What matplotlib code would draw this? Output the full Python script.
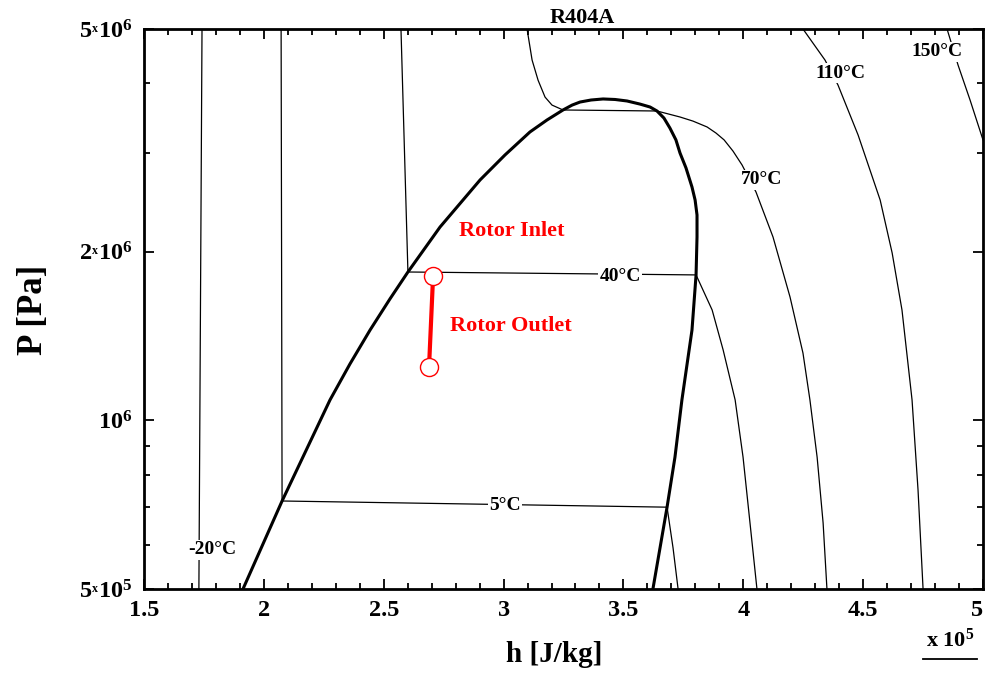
import matplotlib
matplotlib.use('Agg')
import matplotlib.pyplot as plt
from matplotlib.ticker import FixedLocator, NullFormatter
from matplotlib.lines import Line2D

plt.rcParams['font.family'] = ['Liberation Serif', 'DejaVu Serif']
plt.rcParams['font.weight'] = 'bold'
plt.rcParams['mathtext.fontset'] = 'custom'
plt.rcParams['mathtext.rm'] = 'Liberation Serif:bold'
plt.rcParams['mathtext.it'] = 'Liberation Serif:italic:bold'
plt.rcParams['mathtext.bf'] = 'Liberation Serif:bold'

# ---------------- data (h in 1e5 J/kg, P in Pa) ----------------
sat_h = [1.913, 2.076, 2.276, 2.359, 2.443, 2.526, 2.601, 2.735, 2.902, 3.006,
         3.110, 3.181, 3.248, 3.286, 3.319, 3.365, 3.415, 3.465, 3.515, 3.569,
         3.611, 3.640, 3.669, 3.694, 3.719, 3.736, 3.761, 3.786, 3.799, 3.807,
         3.807, 3.803, 3.786, 3.744, 3.715, 3.682, 3.623]
sat_P = [5.00e5, 7.18e5, 1.088e6, 1.261e6, 1.450e6, 1.648e6, 1.841e6, 2.215e6, 2.688e6, 2.979e6,
         3.274e6, 3.439e6, 3.584e6, 3.657e6, 3.703e6, 3.734e6, 3.750e6, 3.742e6, 3.719e6, 3.672e6,
         3.628e6, 3.569e6, 3.467e6, 3.327e6, 3.169e6, 3.003e6, 2.824e6, 2.611e6, 2.475e6, 2.327e6,
         2.126e6, 1.819e6, 1.450e6, 1.088e6, 8.60e5, 7.00e5, 5.00e5]

tm20_h = [1.742, 1.729]
tm20_P = [5.0e6, 5.0e5]

t5_h = [2.072, 2.076, 3.682, 3.707, 3.728]
t5_P = [5.0e6, 7.18e5, 7.00e5, 5.92e5, 5.0e5]

t40_h = [2.572, 2.601, 3.803, 3.870, 3.916, 3.966, 3.999, 4.028, 4.057]
t40_P = [5.0e6, 1.841e6, 1.819e6, 1.575e6, 1.336e6, 1.088e6, 8.60e5, 6.56e5, 5.0e5]

t70_h = [3.098, 3.119, 3.144, 3.173, 3.202, 3.248, 3.640, 3.736, 3.790, 3.849,
         3.886, 3.920, 3.957, 3.995, 4.053, 4.124, 4.195, 4.249, 4.278, 4.308,
         4.333, 4.349]
t70_P = [5.0e6, 4.40e6, 4.05e6, 3.779e6, 3.657e6, 3.584e6, 3.569e6, 3.482e6, 3.424e6, 3.342e6,
         3.260e6, 3.169e6, 3.027e6, 2.858e6, 2.558e6, 2.126e6, 1.661e6, 1.319e6, 1.088e6, 8.60e5,
         6.56e5, 5.0e5]

t110_h = [4.249, 4.341, 4.395, 4.479, 4.571, 4.621, 4.662, 4.704, 4.729, 4.750]
t110_P = [5.0e6, 4.40e6, 3.972e6, 3.233e6, 2.475e6, 1.991e6, 1.575e6, 1.088e6, 7.51e5, 5.0e5]

t150_h = [4.850, 4.896, 4.946, 5.000]
t150_P = [5.0e6, 4.31e6, 3.734e6, 3.169e6]

iso_labels = ['-20°C', '5°C', '40°C', '70°C', '110°C', '150°C']
iso_label_h = [1.784, 3.006, 3.486, 4.078, 4.404, 4.808]
iso_label_P = [5.87e5, 7.06e5, 1.804e6, 2.688e6, 4.17e6, 4.55e6]

rotor_names = ['Rotor Inlet', 'Rotor Outlet']
rotor_h = [2.706, 2.689]
rotor_P = [1.811e6, 1.245e6]
rotor_label_h = [3.035, 3.031]
rotor_label_P = [2.18e6, 1.475e6]

xticks = [1.5, 2, 2.5, 3, 3.5, 4, 4.5, 5]
xtick_labels = ['1.5', '2', '2.5', '3', '3.5', '4', '4.5', '5']
yticks = [5e5, 1e6, 2e6, 5e6]
ytick_labels = [r'$5^{{}_{\mathrm{x}}}10^{5}$', r'$10^{6}$', r'$2^{{}_{\mathrm{x}}}10^{6}$', r'$5^{{}_{\mathrm{x}}}10^{6}$']
yminor = [6e5, 7e5, 8e5, 9e5, 3e6, 4e6]
xminor = [1.6, 1.7, 1.8, 1.9, 2.1, 2.2, 2.3, 2.4, 2.6, 2.7, 2.8, 2.9, 3.1, 3.2, 3.3, 3.4,
          3.6, 3.7, 3.8, 3.9, 4.1, 4.2, 4.3, 4.4, 4.6, 4.7, 4.8, 4.9]

# ---------------- figure ----------------
W, H = 987, 677
fig = plt.figure(figsize=(W / 100, H / 100), dpi=100)
ax = fig.add_axes([144 / W, 1 - 589 / H, (983 - 144) / W, (589 - 29) / H])
ax.set_yscale('log')
ax.set_xlim(1.5, 5.0)
ax.set_ylim(5e5, 5e6)

iso_kw = dict(color='black', lw=0.9, zorder=2)
for hh, pp in [(tm20_h, tm20_P), (t5_h, t5_P), (t40_h, t40_P), (t70_h, t70_P),
               (t110_h, t110_P), (t150_h, t150_P)]:
    ax.plot(hh, pp, **iso_kw)
ax.plot(sat_h, sat_P, color='black', lw=2.2, zorder=3)

for lab, hh, pp in zip(iso_labels, iso_label_h, iso_label_P):
    ax.text(hh, pp, lab, fontsize=14, fontweight='bold', ha='center', va='center',
            zorder=5, bbox=dict(facecolor='white', edgecolor='none', pad=1.0))

ax.plot(rotor_h, rotor_P, color='red', lw=3, zorder=6)
ax.plot(rotor_h, rotor_P, linestyle='none', marker='o', markersize=13,
        markerfacecolor='white', markeredgecolor='red', markeredgewidth=1.0, zorder=7)
for lab, hh, pp in zip(rotor_names, rotor_label_h, rotor_label_P):
    ax.text(hh, pp, lab, fontsize=16, fontweight='bold', color='red',
            ha='center', va='center', zorder=8)

# ticks
ax.xaxis.set_major_locator(FixedLocator(xticks))
ax.set_xticklabels(xtick_labels)
ax.xaxis.set_minor_locator(FixedLocator(xminor))
ax.yaxis.set_major_locator(FixedLocator(yticks))
ax.set_yticklabels(ytick_labels)
ax.yaxis.set_minor_locator(FixedLocator(yminor))
ax.yaxis.set_minor_formatter(NullFormatter())
ax.tick_params(which='both', direction='in', top=True, right=True, width=1.3, colors='black')
ax.tick_params(which='major', length=7, labelsize=17.5, pad=8)
ax.tick_params(which='minor', length=4)
for lbl in ax.get_xticklabels() + ax.get_yticklabels():
    lbl.set_fontweight('bold')
ax.get_xticklabels()[-1].set_horizontalalignment('right')
for sp in ax.spines.values():
    sp.set_linewidth(2.0)

ax.set_xlabel('h [J/kg]', fontsize=21, fontweight='bold')
ax.xaxis.set_label_coords((554 - 144) / (983 - 144), (589 - 641) / (589 - 29))
ax.set_ylabel('P [Pa]', fontsize=25, fontweight='bold')
ax.yaxis.set_label_coords((50 - 144) / (983 - 144), (589 - 310) / (589 - 29))
ax.set_title('R404A', fontsize=16, fontweight='bold', x=(582 - 144) / (983 - 144), pad=4)

fig.text(950 / W, 1 - 640 / H, r'x $10^{5}$', fontsize=16, fontweight='bold',
         ha='center', va='center')
fig.add_artist(Line2D([923 / W, 977 / W], [1 - 659 / H, 1 - 659 / H],
                      color='black', lw=1.3, transform=fig.transFigure))

fig.savefig('out.png', dpi=100)
